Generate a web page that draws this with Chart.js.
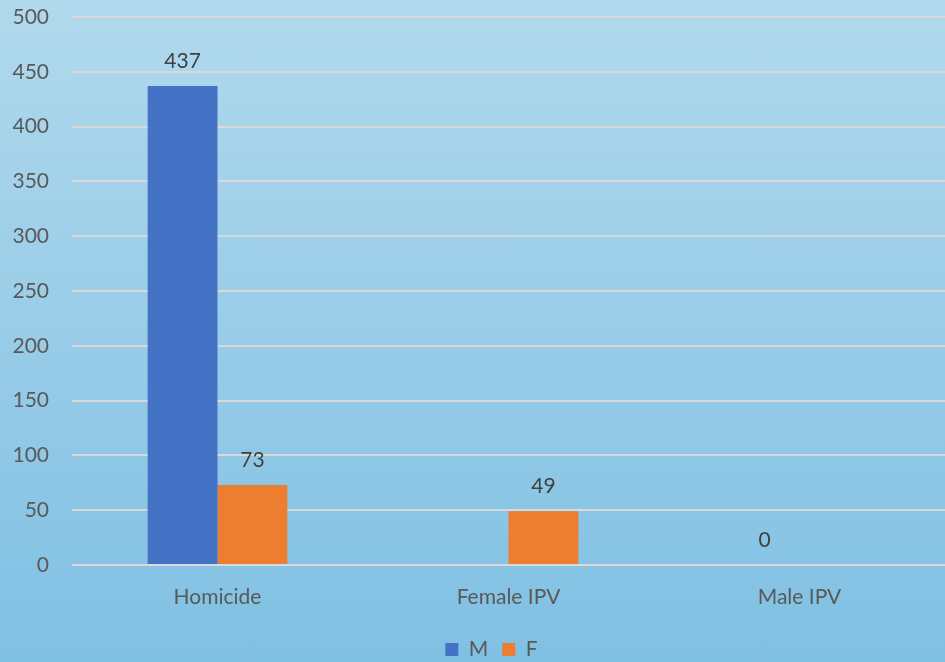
<!DOCTYPE html>
<html>
<head>
<meta charset="utf-8">
<script src="https://cdn.jsdelivr.net/npm/chart.js@4"></script>
<style>
  html, body { margin: 0; padding: 0; }
  body { width: 945px; height: 662px; overflow: hidden;
         background: linear-gradient(to bottom, #b1d9ed 0%, #80c0e3 100%); }
  #wrap { width: 945px; height: 662px; }
</style>
</head>
<body>
<div id="wrap"><canvas id="myChart"></canvas></div>
<script>
const categories = ['Homicide', 'Female IPV', 'Male IPV'];
const maleValues = [437, null, 0];
const femaleValues = [73, 49, null];
const yTicks = [0, 50, 100, 150, 200, 250, 300, 350, 400, 450, 500];

const FONT = 'Lato, "Open Sans", sans-serif';

// value labels above each bar
const valueLabels = {
    id: 'valueLabels',
    afterDatasetsDraw(chart){
        const ctx = chart.ctx;
        ctx.save();
        ctx.font = '21px ' + FONT;
        ctx.fillStyle = '#404040';
        ctx.textAlign = 'center';
        ctx.textBaseline = 'alphabetic';
        chart.data.datasets.forEach(function(ds, i){
            const meta = chart.getDatasetMeta(i);
            meta.data.forEach(function(bar, j){
                const v = ds.data[j];
                if(v === null || v === undefined) return;
                ctx.fillText(String(v), bar.x, bar.y - 18);
            });
        });
        ctx.restore();
    }
};

// legend is centred under the plot area, not the whole canvas
const legendShift = {
    id: 'legendShift',
    afterLayout(chart){
        const lg = chart.legend;
        const shift = 19;
        lg.left += shift;
        lg.right += shift;
        lg.legendHitBoxes.forEach(b => { b.left += shift; });
    }
};

document.addEventListener('DOMContentLoaded', function () {
    const ctx = document.getElementById('myChart').getContext('2d');
    new Chart(ctx, {
        type: 'bar',
        data: {
            labels: categories,
            datasets: [
                {label: 'M', data: maleValues, backgroundColor: '#4472c4'},
                {label: 'F', data: femaleValues, backgroundColor: '#ed7d31'}
            ]
        },
        options: {
            responsive: true,
            maintainAspectRatio: false,
            animation: false,
            layout: {padding: 0},
            datasets: {bar: {categoryPercentage: 0.48, barPercentage: 1.0}},
            scales: {
                x: {
                    afterFit(scale){ scale.height = 60; },
                    grid: {display: false},
                    border: {display: false},
                    ticks: {color: '#595959', font: {size: 21, family: FONT}, padding: 12}
                },
                y: {
                    min: 0,
                    max: 500,
                    afterBuildTicks(scale){
                        scale.ticks = yTicks.map(v => ({value: v}));
                    },
                    afterFit(scale){
                        scale.width = 72;
                        scale.paddingTop = 17;
                    },
                    grid: {color: '#d9d9d9', lineWidth: 2, drawTicks: false},
                    border: {display: false},
                    ticks: {color: '#595959', font: {size: 21, family: FONT}, padding: 23}
                }
            },
            plugins: {
                legend: {
                    position: 'bottom',
                    maxHeight: 37,
                    labels: {
                        boxWidth: 13,
                        boxHeight: 13,
                        color: '#595959',
                        font: {size: 21, family: FONT},
                        padding: 14
                    }
                },
                tooltip: {enabled: false}
            }
        },
        plugins: [valueLabels, legendShift]
    });
});
</script>
</body>
</html>
